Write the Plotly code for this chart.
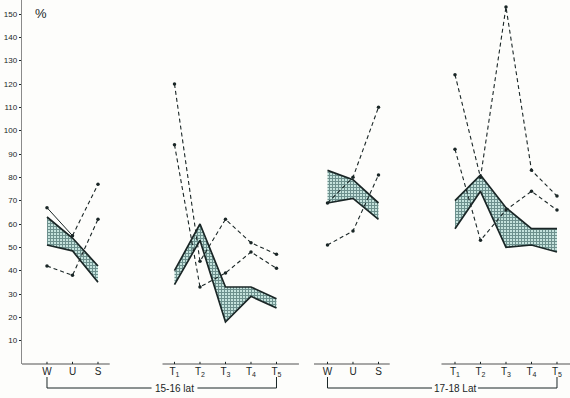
import plotly.graph_objects as go

# ---- data ----
age_groups = ["15-16 lat", "17-18 Lat"]
cats_wus = ["W", "U", "S"]
cats_t = ["T<sub>1</sub>", "T<sub>2</sub>", "T<sub>3</sub>", "T<sub>4</sub>", "T<sub>5</sub>"]

pos_wus_1 = [0, 1, 2]
pos_t_1 = [5, 6, 7, 8, 9]
pos_wus_2 = [11, 12, 13]
pos_t_2 = [16, 17, 18, 19, 20]

# 15-16 lat, W/U/S
band_hi_wus_1 = [63, 54, 42]
band_lo_wus_1 = [51, 48.5, 35]
dash_a_wus_1 = [67, 55, 77]
dash_b_wus_1 = [42, 38, 62]

# 15-16 lat, T1..T5
band_hi_t_1 = [40, 60, 33, 33, 28]
band_lo_t_1 = [34, 53, 18, 29, 24]
dash_a_t_1 = [120, 44, 62, 52, 47]
dash_b_t_1 = [94, 33, 39, 48, 41]

# 17-18 lat, W/U/S
band_hi_wus_2 = [83, 79, 69]
band_lo_wus_2 = [69, 71, 62]
dash_a_wus_2 = [69, 80, 110]
dash_b_wus_2 = [51, 57, 81]

# 17-18 lat, T1..T5
band_hi_t_2 = [70, 81, 67, 58, 58]
band_lo_t_2 = [58, 74, 50, 51, 48]
dash_a_t_2 = [124, 80, 153, 83, 72]
dash_b_t_2 = [92, 53, 66, 74, 66]

y_ticks = list(range(10, 160, 10))

# ---- styles ----
INK = "#1a2626"
AXIS = "#8a8a8a"
FONT = "Liberation Sans, Arial"
XMIN, XMAX = -0.98, 20.51
YMIN, YMAX = 0, 156

fig = go.Figure()


def band(xs, hi, lo):
    fig.add_trace(go.Scatter(
        x=list(xs) + list(xs)[::-1], y=list(hi) + list(lo)[::-1],
        mode="lines", fill="toself", line=dict(width=0),
        fillcolor="#c4e2dc",
        fillpattern=dict(shape="+", size=3, solidity=0.55,
                         fgcolor="#143d3d", bgcolor="#c4e2dc"),
        hoverinfo="skip", showlegend=False))
    for ys in (hi, lo):
        fig.add_trace(go.Scatter(x=xs, y=ys, mode="lines",
                                 line=dict(color=INK, width=1.7),
                                 showlegend=False))


def dashed(xs, ys, solid_first=False):
    if solid_first:
        fig.add_trace(go.Scatter(x=xs[:2], y=ys[:2], mode="lines",
                                 line=dict(color=INK, width=1),
                                 showlegend=False))
        xs2, ys2 = xs[1:], ys[1:]
    else:
        xs2, ys2 = xs, ys
    fig.add_trace(go.Scatter(x=xs2, y=ys2, mode="lines",
                             line=dict(color=INK, width=1.1, dash="4px,3px"),
                             showlegend=False))
    fig.add_trace(go.Scatter(x=xs, y=ys, mode="markers",
                             marker=dict(color=INK, size=3.5),
                             showlegend=False))


band(pos_wus_1, band_hi_wus_1, band_lo_wus_1)
dashed(pos_wus_1, dash_a_wus_1, solid_first=True)
dashed(pos_wus_1, dash_b_wus_1)

band(pos_t_1, band_hi_t_1, band_lo_t_1)
dashed(pos_t_1, dash_a_t_1)
dashed(pos_t_1, dash_b_t_1)

band(pos_wus_2, band_hi_wus_2, band_lo_wus_2)
dashed(pos_wus_2, dash_a_wus_2)
dashed(pos_wus_2, dash_b_wus_2)

band(pos_t_2, band_hi_t_2, band_lo_t_2)
dashed(pos_t_2, dash_a_t_2)
dashed(pos_t_2, dash_b_t_2)


def px(x):
    return (x - XMIN) / (XMAX - XMIN)


shapes = []
# broken x-axis segments (in data units)
for a, b in [(XMIN, 2.46), (4.53, 9.88), (10.47, 13.44), (15.47, XMAX)]:
    shapes.append(dict(type="line", xref="paper", yref="paper",
                       x0=px(a), x1=px(b), y0=0, y1=0,
                       line=dict(color=AXIS, width=1.4)))
# small ticks on x axis
for p in pos_wus_1 + pos_t_1 + pos_wus_2 + pos_t_2:
    shapes.append(dict(type="line", xref="paper", yref="paper",
                       x0=px(p), x1=px(p), y0=0, y1=0.006,
                       line=dict(color=INK, width=1)))

# brackets under groups
H = 364.0
annotations = []
yb = -(388 - H) / H
yt = -(377 - H) / H
for (first, last, lab_x, label) in [
        (pos_wus_1[0], pos_t_1[-1], pos_t_1[0], age_groups[0]),
        (pos_wus_2[0], pos_t_2[-1], pos_t_2[0], age_groups[1])]:
    shapes.append(dict(type="line", xref="paper", yref="paper",
                       x0=px(first), x1=px(first), y0=yt, y1=yb,
                       line=dict(color=INK, width=1)))
    shapes.append(dict(type="line", xref="paper", yref="paper",
                       x0=px(last), x1=px(last), y0=yt, y1=yb,
                       line=dict(color=INK, width=1)))
    shapes.append(dict(type="line", xref="paper", yref="paper",
                       x0=px(first), x1=px(lab_x - 0.9), y0=yb, y1=yb,
                       line=dict(color=INK, width=1)))
    shapes.append(dict(type="line", xref="paper", yref="paper",
                       x0=px(lab_x + 0.9), x1=px(last), y0=yb, y1=yb,
                       line=dict(color=INK, width=1)))
    annotations.append(dict(text=label, xref="paper", yref="paper",
                            x=px(lab_x), y=yb, showarrow=False,
                            xanchor="center", yanchor="middle",
                            font=dict(size=10, color=INK, family=FONT)))

annotations.append(dict(text="%", xref="paper", yref="paper",
                        x=(33 - 22) / 548, y=(H - 14) / H, showarrow=False,
                        xanchor="left", yanchor="middle",
                        font=dict(size=13, color=INK, family=FONT)))

fig.update_layout(
    width=570, height=398,
    margin=dict(l=22, r=0, t=0, b=34),
    paper_bgcolor="#fdfdfb", plot_bgcolor="#fdfdfb",
    shapes=shapes, annotations=annotations,
    font=dict(family=FONT, color=INK),
    xaxis=dict(range=[XMIN, XMAX], showgrid=False, zeroline=False,
               showline=False, ticks="",
               tickvals=pos_wus_1 + pos_t_1 + pos_wus_2 + pos_t_2,
               ticktext=cats_wus + cats_t + cats_wus + cats_t,
               tickfont=dict(size=10, color=INK, family=FONT)),
    yaxis=dict(range=[YMIN, YMAX], showgrid=False, zeroline=False,
               showline=True, linecolor=AXIS, linewidth=1.4,
               ticks="outside", ticklen=2, tickcolor=INK, tickwidth=1,
               tickvals=y_ticks, tickfont=dict(size=8, color=INK, family=FONT)),
)

fig.write_html("out.html")
